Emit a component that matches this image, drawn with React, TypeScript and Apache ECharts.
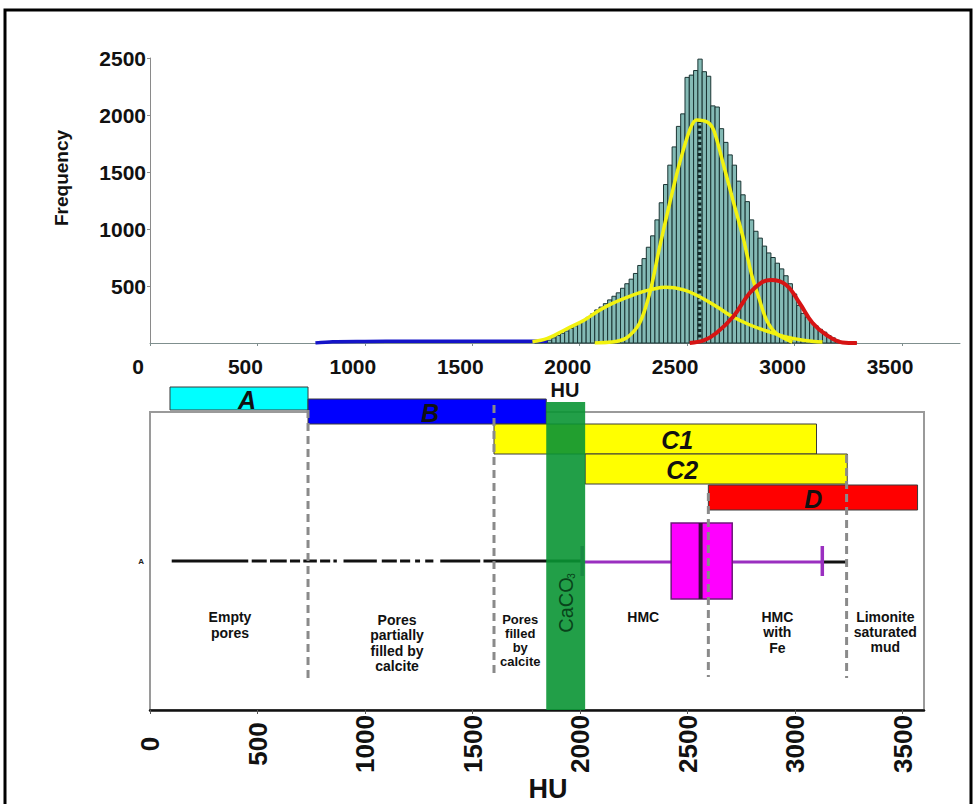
import React, { useEffect, useRef } from 'react';
import * as echarts from 'echarts';

const FONT = '"Liberation Sans", Arial, Helvetica, sans-serif';

// ---- Upper panel: CT-number histogram (20 HU bins) ----
const BIN_WIDTH = 20;
const binStart = [
  1790, 1810, 1830, 1850, 1870, 1890, 1910, 1930, 1950, 1970,
  1990, 2010, 2030, 2050, 2070, 2090, 2110, 2130, 2150, 2170,
  2190, 2210, 2230, 2250, 2270, 2290, 2310, 2330, 2350, 2370,
  2390, 2410, 2430, 2450, 2470, 2490, 2510, 2530, 2550, 2570,
  2590, 2610, 2630, 2650, 2670, 2690, 2710, 2730, 2750, 2770,
  2790, 2810, 2830, 2850, 2870, 2890, 2910, 2930, 2950, 2970,
  2990, 3010, 3030, 3050, 3070, 3090, 3110, 3130, 3150, 3170,
  3190, 3210, 3230, 3250, 3270,
];
const binCount = [
  4, 8, 14, 25, 45, 65, 85, 105, 128, 150,
  172, 198, 225, 255, 290, 315, 345, 378, 410, 440,
  480, 520, 560, 610, 680, 740, 840, 940, 1080, 1230,
  1390, 1560, 1720, 1900, 2010, 2330, 2350, 2390, 2490, 2380,
  2340, 2080, 2070, 1880, 1760, 1650, 1560, 1420, 1300, 1240,
  1080, 980, 920, 850, 790, 750, 700, 650, 590, 520,
  430, 330, 260, 225, 180, 150, 120, 95, 65, 45,
  25, 12, 6, 3, 2,
];

// Fitted components [HU, frequency]
const curveB = [[770, 0], [850, 12], [1000, 14], [1200, 15], [1500, 15], [1700, 15], [1850, 15]];
const curveC1 = [
  [1780, 12], [1850, 40], [1940, 125], [2020, 200], [2090, 285], [2150, 345], [2220, 400],
  [2290, 448], [2330, 468], [2400, 488], [2480, 468], [2560, 404], [2640, 316], [2710, 232],
  [2790, 160], [2870, 105], [2950, 58], [3040, 25], [3130, 8],
];
const curveC2 = [
  [2070, 0], [2150, 8], [2217, 44], [2279, 175], [2326, 438], [2372, 842], [2419, 1228],
  [2465, 1579], [2512, 1868], [2543, 1956], [2597, 1935], [2625, 1860], [2667, 1579],
  [2713, 1254], [2760, 930], [2800, 600], [2835, 390], [2870, 200], [2915, 85], [2990, 8],
];
const curveD = [
  [2512, 0], [2580, 25], [2636, 88], [2713, 228], [2791, 438], [2850, 535], [2890, 552],
  [2961, 509], [3023, 351], [3084, 175], [3149, 70], [3223, 5], [3290, 0],
];
const medianHU = 2558;
const medianLineTop = 1950;

const HU_TICKS = [0, 500, 1000, 1500, 2000, 2500, 3000, 3500];

// ---- Lower panel: HU ranges, box plot and interpretation ----
const rangeNames = ['A', 'B', 'C1', 'C2', 'D'];
const rangeFrom = [93, 735, 1600, 2024, 2597];
const rangeTo = [735, 1843, 3100, 3243, 3570];
const rangeColors = ['#00ffff', '#0000ff', '#ffff00', '#ffff00', '#ff0000'];
const rangeLabelAt = [451, 1303, 2452, 2475, 3085];

const calciteBand = [1843, 2024];
const boundaryHU = [735, 1600, 2597, 3240];

// lower whisker, Q1, median, Q3, upper whisker
const boxStats = [2010, 2424, 2561, 2708, 3127];
const lowOutlierRuns = [
  [101, 457], [473, 543], [558, 636], [651, 698], [713, 776], [791, 838], [853, 869],
  [900, 1055], [1078, 1148], [1163, 1210], [1233, 1256], [1280, 1318], [1350, 1536], [1551, 2010],
];
const highOutlierRun = [3127, 3243];
const highOutliers = [3252, 3266, 3280, 3294, 3308, 3322, 3410, 3445];

const zoneLabels = [
  'Empty\npores',
  'Pores\npartially\nfilled by\ncalcite',
  'Pores\nfilled\nby\ncalcite',
  'HMC',
  'HMC\nwith\nFe',
  'Limonite\nsaturated\nmud',
];
const zoneLabelAt = [372, 1149, 1722, 2294, 2918, 3420];

// Vertical layout of the lower panel, in pixels below the frame top
const ROW_BAND = [[-25, -2], [-13, 12], [12, 42], [42, 72], [73, 98]];
const BOUNDARY_SPAN = [[-2, 266], [-7, 262], [81, 265], [43, 266]];
const BAND_TOP = -10;
const PANEL_H = 298;
const BOX_Y = [111, 187];
const WHISKER_Y = 150;
const CAP_Y = [134, 164];
const ZONE_TOP = [197, 200, 200, 197, 197, 197];
const ZONE_SIZE = [14, 14, 13, 14, 14, 14];
const ZONE_LINE = [16, 15.5, 14, 16, 15.5, 15];

const tickFormatter = (v: number) => (HU_TICKS.indexOf(v) >= 0 ? String(v) : '');

export default function App() {
  const ref = useRef<HTMLDivElement>(null);

  useEffect(() => {
    if (!ref.current) return;
    const chart = echarts.init(ref.current, undefined, { renderer: 'svg' });

    const lineCurve = (data: number[][], color: string, width: number, smooth: number) => ({
      type: 'line',
      xAxisIndex: 0,
      yAxisIndex: 0,
      data,
      smooth,
      showSymbol: false,
      symbol: 'none',
      lineStyle: { color, width },
      z: 4,
    });

    const option: any = {
      animation: false,
      backgroundColor: '#ffffff',
      grid: [
        { left: 150, right: 14, top: 58, bottom: 461 },
        {
          left: 150, right: 50, top: 412, bottom: 94,
          show: true, borderColor: '#9a9a9a', borderWidth: 2, backgroundColor: 'transparent',
        },
      ],
      xAxis: [
        {
          gridIndex: 0, type: 'value', min: 0, max: 3770, interval: 500,
          axisLine: { onZero: false, lineStyle: { color: '#7f8f8e', width: 1 } },
          axisTick: { show: true, length: 3, lineStyle: { color: '#7f8f8e' }, customValues: HU_TICKS },
          axisLabel: {
            customValues: HU_TICKS, formatter: tickFormatter, color: '#111', fontSize: 21,
            fontWeight: 'bold', fontFamily: FONT, margin: 13, padding: [0, 24, 0, 0],
          },
          splitLine: { show: false },
        },
        {
          gridIndex: 1, type: 'value', min: 0, max: 3600, interval: 500, position: 'bottom',
          axisLine: { onZero: false, lineStyle: { color: '#111', width: 2.5 } },
          axisTick: { show: true, length: 4, lineStyle: { color: '#555' }, customValues: HU_TICKS },
          axisLabel: {
            customValues: HU_TICKS, formatter: tickFormatter, rotate: 90, align: 'center',
            verticalAlign: 'middle', margin: 34, color: '#111', fontSize: 26,
            fontWeight: 'bold', fontFamily: FONT,
          },
          splitLine: { show: false },
        },
      ],
      yAxis: [
        {
          gridIndex: 0, type: 'value', min: 0, max: 2500, interval: 500,
          axisLine: { show: true, lineStyle: { color: '#8a8a8a', width: 1 } },
          axisTick: { show: true, length: 3, lineStyle: { color: '#8a8a8a' } },
          axisLabel: {
            showMinLabel: false, formatter: (v: number) => String(v), color: '#111',
            fontSize: 21, fontWeight: 'bold', fontFamily: FONT, margin: 4,
          },
          splitLine: { show: false },
        },
        {
          gridIndex: 1, type: 'category', data: ['A'],
          axisLine: { show: false }, axisTick: { show: false },
          axisLabel: { color: '#222', fontSize: 8, fontWeight: 'bold', fontFamily: FONT, margin: 6 },
          splitLine: { show: false },
        },
        { gridIndex: 1, type: 'value', min: 0, max: PANEL_H, inverse: true, show: false },
      ],
      graphic: [
        {
          type: 'rect', shape: { x: 5, y: 10, width: 966, height: 800 },
          style: { fill: 'none', stroke: '#000', lineWidth: 3 }, z: 100,
        },
        {
          type: 'text', x: 61, y: 178, rotation: Math.PI / 2,
          style: {
            text: 'Frequency', fill: '#111', fontSize: 19, fontWeight: 'bold', fontFamily: FONT,
            align: 'center', verticalAlign: 'middle',
          },
        },
        {
          type: 'text', x: 565, y: 390,
          style: {
            text: 'HU', fill: '#111', fontSize: 20, fontWeight: 'bold', fontFamily: FONT,
            align: 'center', verticalAlign: 'middle',
          },
        },
        {
          type: 'text', x: 548, y: 789,
          style: {
            text: 'HU', fill: '#111', fontSize: 27, fontWeight: 'bold', fontFamily: FONT,
            align: 'center', verticalAlign: 'middle',
          },
        },
      ],
      series: [
        // histogram bars
        {
          type: 'custom',
          xAxisIndex: 0,
          yAxisIndex: 0,
          data: binStart.map((s, i) => [s, s + BIN_WIDTH, binCount[i]]),
          encode: { x: [0, 1], y: 2 },
          renderItem: (params: any, api: any) => {
            const p0 = api.coord([api.value(0), api.value(2)]);
            const p1 = api.coord([api.value(1), 0]);
            return {
              type: 'rect',
              shape: { x: p0[0], y: p0[1], width: p1[0] - p0[0], height: p1[1] - p0[1] },
              style: { fill: '#84bab5', stroke: '#1a3433', lineWidth: 1 },
            };
          },
          z: 2,
        },
        {
          type: 'line', xAxisIndex: 0, yAxisIndex: 0,
          data: [[medianHU, 0], [medianHU, medianLineTop]],
          showSymbol: false, symbol: 'none',
          lineStyle: { color: '#102a29', width: 3.5, type: [3, 2.5] },
          z: 3,
        },
        lineCurve(curveB, '#1414c8', 3.5, 0.3),
        lineCurve(curveC1, '#f2f20f', 3.5, 0.4),
        lineCurve(curveC2, '#f2f20f', 3.5, 0.3),
        lineCurve(curveD, '#d61414', 4, 0.4),

        // HU ranges A-D
        {
          type: 'custom', xAxisIndex: 1, yAxisIndex: 2, clip: false,
          data: rangeNames.map((n, i) => [rangeFrom[i], rangeTo[i], i]),
          encode: { x: [0, 1], y: 2 },
          renderItem: (params: any, api: any) => {
            const i = params.dataIndex;
            const p0 = api.coord([rangeFrom[i], ROW_BAND[i][0]]);
            const p1 = api.coord([rangeTo[i], ROW_BAND[i][1]]);
            const lp = api.coord([rangeLabelAt[i], (ROW_BAND[i][0] + ROW_BAND[i][1]) / 2]);
            return {
              type: 'group',
              children: [
                {
                  type: 'rect',
                  shape: { x: p0[0], y: p0[1], width: p1[0] - p0[0], height: p1[1] - p0[1] },
                  style: { fill: rangeColors[i], stroke: '#3a3a3a', lineWidth: 1 },
                },
                {
                  type: 'text', x: lp[0], y: lp[1] + 1,
                  style: {
                    text: rangeNames[i], fill: '#111', fontSize: 25, fontWeight: 'bold',
                    fontStyle: 'italic', fontFamily: FONT, align: 'center', verticalAlign: 'middle',
                  },
                },
              ],
            };
          },
          z: 3,
        },

        // low-HU outliers
        {
          type: 'custom', xAxisIndex: 1, yAxisIndex: 2, clip: false,
          data: lowOutlierRuns.map((r) => [r[0], r[1], WHISKER_Y]),
          encode: { x: [0, 1], y: 2 },
          renderItem: (params: any, api: any) => {
            const a = api.coord([api.value(0), WHISKER_Y - 1]);
            const b = api.coord([api.value(1), WHISKER_Y - 1]);
            return {
              type: 'line',
              shape: { x1: a[0], y1: a[1], x2: b[0], y2: b[1] },
              style: { stroke: '#111', lineWidth: 3 },
            };
          },
          z: 4,
        },

        // box plot
        {
          type: 'custom', xAxisIndex: 1, yAxisIndex: 2, clip: false,
          data: [boxStats.concat([WHISKER_Y])],
          encode: { x: [0, 1, 2, 3, 4], y: 5 },
          renderItem: (params: any, api: any) => {
            const [lo, q1, med, q3, hi] = boxStats;
            const c = (hu: number, y: number) => api.coord([hu, y]);
            const wl0 = c(lo, WHISKER_Y), wl1 = c(q1, WHISKER_Y);
            const wh0 = c(q3, WHISKER_Y), wh1 = c(hi, WHISKER_Y);
            const b0 = c(q1, BOX_Y[0]), b1 = c(q3, BOX_Y[1]);
            const m0 = c(med, BOX_Y[0]), m1 = c(med, BOX_Y[1]);
            const cl0 = c(lo, CAP_Y[0]), cl1 = c(lo, CAP_Y[1]);
            const ch0 = c(hi, CAP_Y[0]), ch1 = c(hi, CAP_Y[1]);
            const ho0 = c(highOutlierRun[0], WHISKER_Y), ho1 = c(highOutlierRun[1], WHISKER_Y);
            const purple = '#9a2fc0';
            return {
              type: 'group',
              children: [
                { type: 'line', shape: { x1: ho0[0], y1: ho0[1], x2: ho1[0], y2: ho1[1] }, style: { stroke: '#111', lineWidth: 3 } },
                { type: 'line', shape: { x1: wl0[0], y1: wl0[1], x2: wl1[0], y2: wl1[1] }, style: { stroke: purple, lineWidth: 3 } },
                { type: 'line', shape: { x1: wh0[0], y1: wh0[1], x2: wh1[0], y2: wh1[1] }, style: { stroke: purple, lineWidth: 3 } },
                { type: 'line', shape: { x1: cl0[0], y1: cl0[1], x2: cl1[0], y2: cl1[1] }, style: { stroke: purple, lineWidth: 3.5 } },
                { type: 'line', shape: { x1: ch0[0], y1: ch0[1], x2: ch1[0], y2: ch1[1] }, style: { stroke: purple, lineWidth: 3.5 } },
                {
                  type: 'rect',
                  shape: { x: b0[0], y: b0[1], width: b1[0] - b0[0], height: b1[1] - b0[1] },
                  style: { fill: '#ff00ff', stroke: '#6e1a7a', lineWidth: 1.5 },
                },
                { type: 'line', shape: { x1: m0[0], y1: m0[1], x2: m1[0], y2: m1[1] }, style: { stroke: '#3b0a3e', lineWidth: 4 } },
              ],
            };
          },
          z: 4,
        },

        // high-HU outliers
        {
          type: 'scatter', xAxisIndex: 1, yAxisIndex: 2,
          data: highOutliers.map((v) => [v, WHISKER_Y]),
          symbol: 'emptyCircle', symbolSize: 4,
          itemStyle: { color: '#fff', borderColor: '#555', borderWidth: 1 },
          z: 4,
        },

        // calcite (CaCO3) band
        {
          type: 'custom', xAxisIndex: 1, yAxisIndex: 2, clip: false,
          data: [[calciteBand[0], calciteBand[1], PANEL_H]],
          encode: { x: [0, 1], y: 2 },
          renderItem: (params: any, api: any) => {
            const p0 = api.coord([calciteBand[0], BAND_TOP]);
            const p1 = api.coord([calciteBand[1], PANEL_H]);
            const mid = api.coord([(calciteBand[0] + calciteBand[1]) / 2, 193]);
            return {
              type: 'group',
              children: [
                {
                  type: 'rect',
                  shape: { x: p0[0], y: p0[1], width: p1[0] - p0[0], height: p1[1] - p0[1] },
                  style: { fill: 'rgba(10,149,52,0.9)' },
                },
                {
                  type: 'group', x: mid[0], y: mid[1], rotation: Math.PI / 2,
                  children: [
                    {
                      type: 'text', x: 0, y: 0,
                      style: {
                        text: 'CaCO', fill: '#08431a', fontSize: 20, fontFamily: FONT,
                        align: 'center', verticalAlign: 'middle',
                      },
                    },
                    {
                      type: 'text', x: 29, y: 6,
                      style: {
                        text: '3', fill: '#08431a', fontSize: 10, fontFamily: FONT,
                        align: 'center', verticalAlign: 'middle',
                      },
                    },
                  ],
                },
              ],
            };
          },
          z: 5,
        },

        // zone boundaries
        {
          type: 'custom', xAxisIndex: 1, yAxisIndex: 2, clip: false,
          data: boundaryHU.map((v, i) => [v, i]),
          encode: { x: 0, y: 1 },
          renderItem: (params: any, api: any) => {
            const i = params.dataIndex;
            const a = api.coord([boundaryHU[i], BOUNDARY_SPAN[i][0]]);
            const b = api.coord([boundaryHU[i], BOUNDARY_SPAN[i][1]]);
            return {
              type: 'line',
              shape: { x1: a[0], y1: a[1], x2: b[0], y2: b[1] },
              style: { stroke: '#8a8a8a', lineWidth: 3, lineDash: [8, 5] },
            };
          },
          z: 6,
        },

        // zone interpretation labels
        {
          type: 'custom', xAxisIndex: 1, yAxisIndex: 2, clip: false,
          data: zoneLabelAt.map((v, i) => [v, i]),
          encode: { x: 0, y: 1 },
          renderItem: (params: any, api: any) => {
            const i = params.dataIndex;
            const p = api.coord([zoneLabelAt[i], ZONE_TOP[i]]);
            return {
              type: 'text', x: p[0], y: p[1],
              style: {
                text: zoneLabels[i], fill: '#111', fontSize: ZONE_SIZE[i], fontWeight: 'bold',
                fontFamily: FONT, align: 'center', verticalAlign: 'top', lineHeight: ZONE_LINE[i],
              },
            };
          },
          z: 7,
        },
      ],
    };

    chart.setOption(option);
    return () => chart.dispose();
  }, []);

  return (
    <div
      ref={ref}
      style={{ position: 'fixed', left: 0, top: 0, width: 974, height: 804, background: '#fff' }}
    />
  );
}
